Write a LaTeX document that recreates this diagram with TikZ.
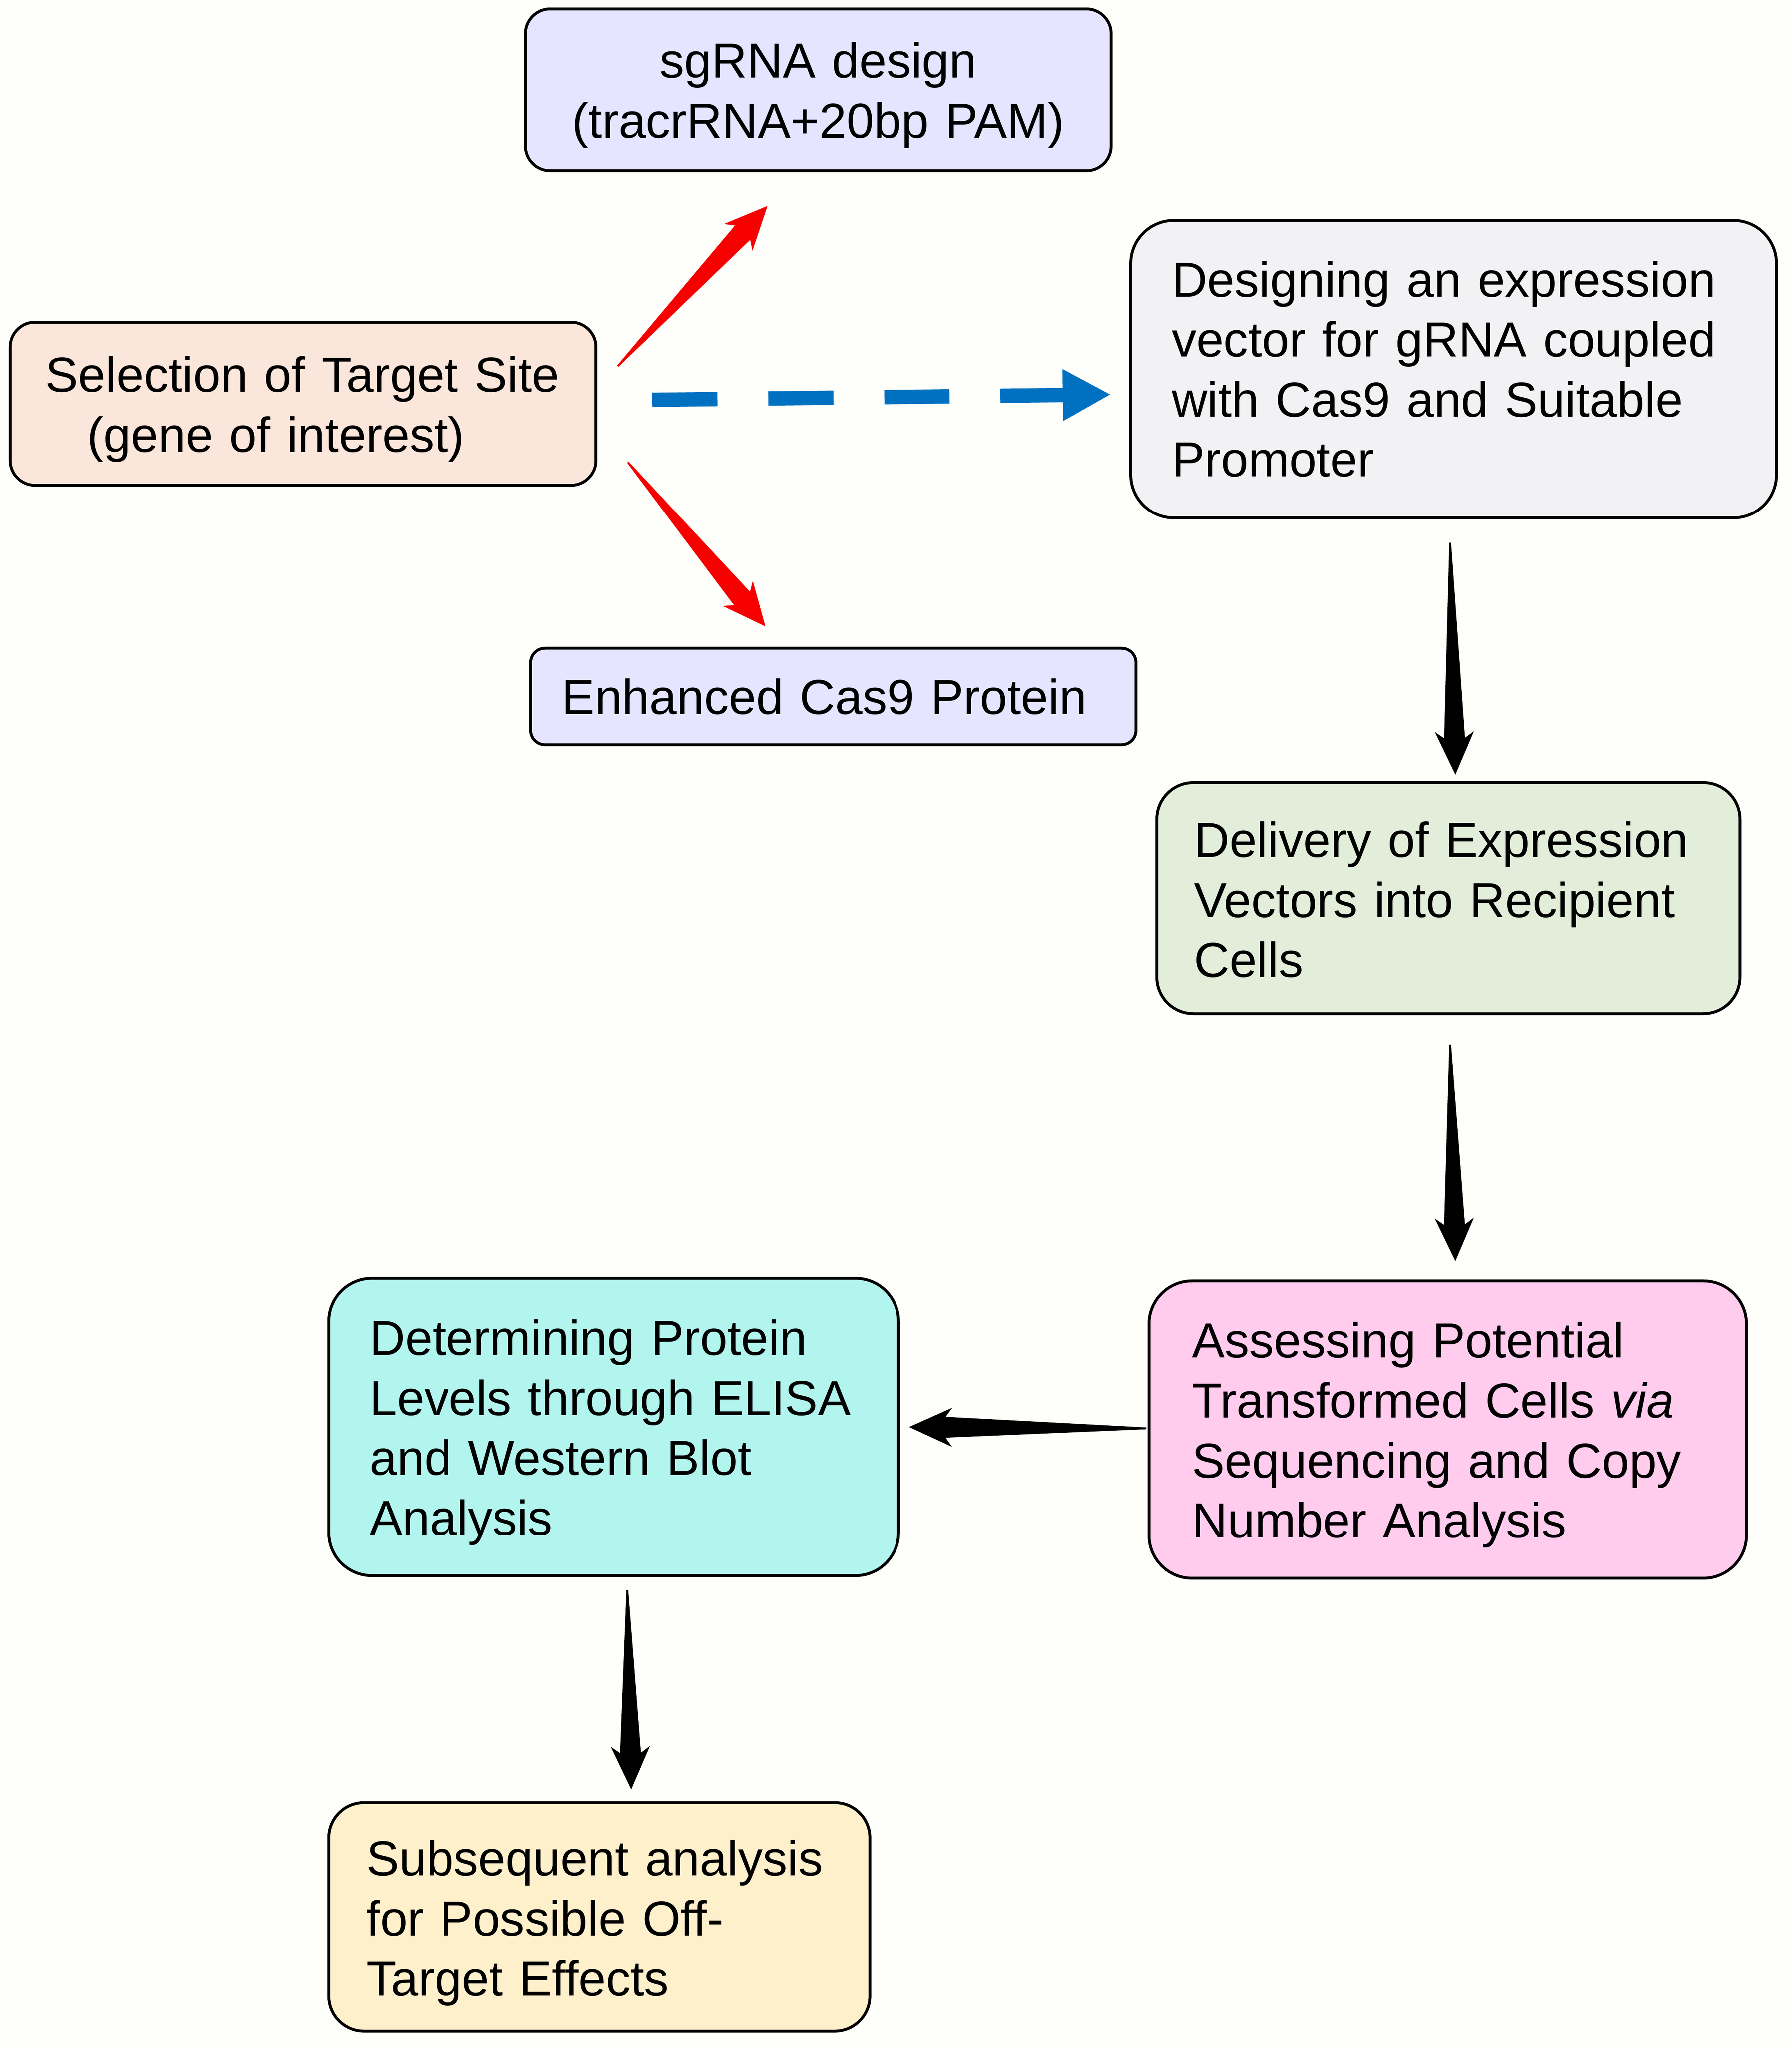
\documentclass[tikz,border=0pt]{standalone}
\usepackage{fontspec}
\setmainfont{Liberation Sans}
\usetikzlibrary{calc,arrows.meta}

\definecolor{bgcol}{RGB}{254,254,250}
\definecolor{selcol}{RGB}{250,230,218}
\definecolor{sgcol}{RGB}{229,229,255}
\definecolor{descol}{RGB}{242,242,244}
\definecolor{delcol}{RGB}{226,237,218}
\definecolor{asscol}{RGB}{255,204,238}
\definecolor{detcol}{RGB}{178,245,238}
\definecolor{subcol}{RGB}{255,240,204}
\definecolor{redcol}{RGB}{246,0,0}
\definecolor{bluecol}{RGB}{0,112,192}

% tapered arrow from #2 to #3
\newcommand{\taper}[3][black]{%
\path let \p1=#2, \p2=#3, \n1={atan2(\y2-\y1,\x2-\x1)}, \n2={veclen(\x2-\x1,\y2-\y1)} in
  \pgfextra{\xdef\tang{\n1}\xdef\tlen{\n2}};
\begin{scope}[shift={#2}, rotate=\tang]
\fill[#1] (0pt,0.7pt) -- ({\tlen*1pt-28pt},8pt) -- ({\tlen*1pt-33pt},15pt) -- ({\tlen*1pt},0pt)
  -- ({\tlen*1pt-33pt},-15pt) -- ({\tlen*1pt-28pt},-8pt) -- (0pt,-0.7pt) -- cycle;
\end{scope}}

\begin{document}
\begin{tikzpicture}[x=1pt,y=-1pt,
  box/.style={draw, line width=2.2pt, rounded corners=#1pt, inner ysep=0pt, align=left,
    font=\fontsize{37.7}{46}\selectfont},
  tdown/.style={execute at begin node={\rule{0pt}{#1pt}}}]

\fill[bgcol] (0,0) rectangle (1374,1568.6);
\useasboundingbox (0,0) rectangle (1374,1568.6);

\path (232.5,309.5) node (sel) [box=19, fill=selcol, minimum height=125pt, text width=395pt, inner xsep=27pt, tdown=35.6] {Selection of Target Site\\\hspace*{32pt}(gene of interest)};
\path (627.5,69) node (sg) [box=19, fill=sgcol, minimum height=124pt, text width=401pt, inner xsep=24pt, align=center, tdown=35.6] {sgRNA design\\(tracrRNA+20bp PAM)};
\path (639,534) node (enh) [box=11, fill=sgcol, minimum height=74pt, text width=416pt, inner xsep=24pt] {Enhanced Cas9 Protein};
\path (1114.5,283) node (des) [box=33, fill=descol, minimum height=228pt, text width=432pt, inner xsep=31.5pt] {Designing an expression\\vector for gRNA coupled\\with Cas9 and Suitable\\Promoter};
\path (1110.5,688.5) node (del) [box=28, fill=delcol, minimum height=177pt, text width=390pt, inner xsep=28.5pt, tdown=29.6] {Delivery of Expression\\Vectors into Recipient\\Cells};
\path (1110,1096) node (ass) [box=33, fill=asscol, minimum height=228pt, text width=392pt, inner xsep=33pt, tdown=35.6] {Assessing Potential\\Transformed Cells \textit{via}\\Sequencing and Copy\\Number Analysis};
\path (470.5,1094) node (det) [box=33, fill=detcol, minimum height=228pt, text width=374pt, inner xsep=31.5pt, tdown=35.6] {Determining Protein\\Levels through ELISA\\and Western Blot\\Analysis};
\path (459.5,1469.5) node (sub) [box=27, fill=subcol, minimum height=175pt, text width=357pt, inner xsep=29pt, tdown=36.6] {Subsequent analysis\\for Possible Off-\\Target Effects};

\coordinate (r1a) at ($(sel.east)+(15.6,-28.8)$);
\coordinate (r1b) at ($(sg.south)+(-39,25.8)$);
\coordinate (r2a) at ($(sel.east)+(23.3,44.8)$);
\coordinate (r2b) at ($(enh.north)+(-52.1,-15.6)$);
\coordinate (b1a) at ($(sel.east)+(42,-3)$);
\coordinate (b1b) at ($(des.west)+(-14,19.4)$);
\coordinate (k1a) at ($(des.south)+(-2.5,18)$);
\coordinate (k1b) at ($(del.north)+(5.5,-5)$);
\coordinate (k2a) at ($(del.south)+(1.5,23)$);
\coordinate (k2b) at ($(ass.north)+(6,-14)$);
\coordinate (k3a) at ($(ass.west)+(-1,-1)$);
\coordinate (k3b) at ($(det.east)+(7,0)$);
\coordinate (k4a) at ($(det.south)+(10.5,10)$);
\coordinate (k4b) at ($(sub.north)+(24.5,-9)$);

\taper[redcol]{(r1a)}{(r1b)}
\taper[redcol]{(r2a)}{(r2b)}
\draw [bluecol, line width=11pt, dash pattern=on 50pt off 39pt, -{Triangle[length=37pt,width=37pt]}] (b1a) to (b1b);
\taper{(k1a)}{(k1b)}
\taper{(k2a)}{(k2b)}
\taper{(k3a)}{(k3b)}
\taper{(k4a)}{(k4b)}

\end{tikzpicture}
\end{document}
